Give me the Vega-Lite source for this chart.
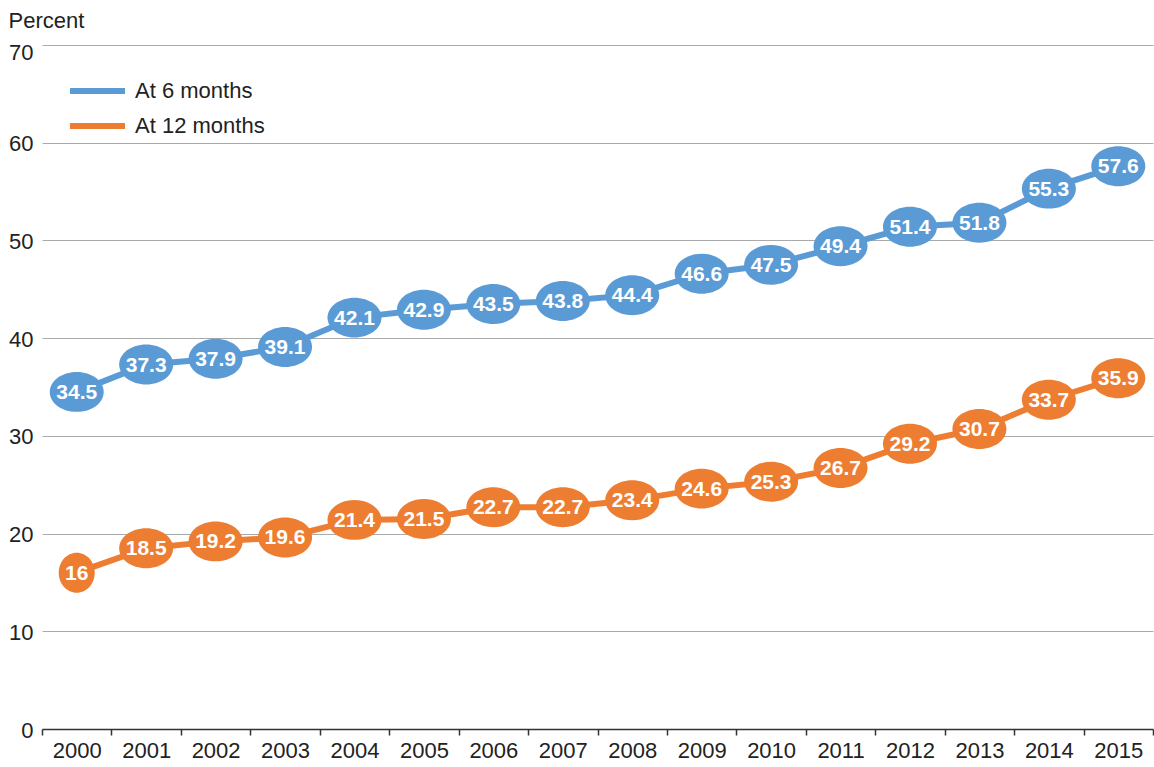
{
  "$schema": "https://vega.github.io/schema/vega-lite/v6.json",
  "autosize": "none",
  "width": 1111,
  "height": 684,
  "padding": {"left": 42, "top": 45, "right": 1, "bottom": 38},
  "background": "white",
  "config": {
    "font": "Liberation Sans",
    "view": {"stroke": null}
  },
  "data": {
    "values": [
      {"year": "2000", "series": "At 6 months", "v": 34.5},
      {"year": "2001", "series": "At 6 months", "v": 37.3},
      {"year": "2002", "series": "At 6 months", "v": 37.9},
      {"year": "2003", "series": "At 6 months", "v": 39.1},
      {"year": "2004", "series": "At 6 months", "v": 42.1},
      {"year": "2005", "series": "At 6 months", "v": 42.9},
      {"year": "2006", "series": "At 6 months", "v": 43.5},
      {"year": "2007", "series": "At 6 months", "v": 43.8},
      {"year": "2008", "series": "At 6 months", "v": 44.4},
      {"year": "2009", "series": "At 6 months", "v": 46.6},
      {"year": "2010", "series": "At 6 months", "v": 47.5},
      {"year": "2011", "series": "At 6 months", "v": 49.4},
      {"year": "2012", "series": "At 6 months", "v": 51.4},
      {"year": "2013", "series": "At 6 months", "v": 51.8},
      {"year": "2014", "series": "At 6 months", "v": 55.3},
      {"year": "2015", "series": "At 6 months", "v": 57.6},
      {"year": "2000", "series": "At 12 months", "v": 16},
      {"year": "2001", "series": "At 12 months", "v": 18.5},
      {"year": "2002", "series": "At 12 months", "v": 19.2},
      {"year": "2003", "series": "At 12 months", "v": 19.6},
      {"year": "2004", "series": "At 12 months", "v": 21.4},
      {"year": "2005", "series": "At 12 months", "v": 21.5},
      {"year": "2006", "series": "At 12 months", "v": 22.7},
      {"year": "2007", "series": "At 12 months", "v": 22.7},
      {"year": "2008", "series": "At 12 months", "v": 23.4},
      {"year": "2009", "series": "At 12 months", "v": 24.6},
      {"year": "2010", "series": "At 12 months", "v": 25.3},
      {"year": "2011", "series": "At 12 months", "v": 26.7},
      {"year": "2012", "series": "At 12 months", "v": 29.2},
      {"year": "2013", "series": "At 12 months", "v": 30.7},
      {"year": "2014", "series": "At 12 months", "v": 33.7},
      {"year": "2015", "series": "At 12 months", "v": 35.9}
    ]
  },
  "encoding": {
    "x": {
      "field": "year",
      "type": "ordinal",
      "scale": {"type": "band", "paddingInner": 0, "paddingOuter": 0},
      "axis": {
        "title": null,
        "labelAngle": 0,
        "labelFontSize": 22,
        "labelColor": "#222222",
        "labelPadding": 5,
        "tickBand": "extent",
        "tickSize": 6,
        "tickColor": "#333333",
        "tickWidth": 1.5,
        "domainColor": "#333333",
        "domainWidth": 1.5,
        "grid": false
      }
    },
    "y": {
      "field": "v",
      "type": "quantitative",
      "scale": {"domain": [0, 70], "nice": false, "zero": true},
      "axis": {
        "values": [0, 10, 20, 30, 40, 50, 60, 70],
        "title": "Percent",
        "titleAngle": 0,
        "titleAlign": "left",
        "titleBaseline": "middle",
        "titleX": -34,
        "titleY": -25,
        "titleFontSize": 22,
        "titleFontWeight": "normal",
        "titleColor": "#222222",
        "labelFontSize": 22,
        "labelColor": "#222222",
        "labelPadding": 9,
        "labelOffset": {"condition": {"test": "datum.value == 70", "value": 7}, "value": 1},
        "tickSize": 0,
        "ticks": false,
        "domain": false,
        "grid": true,
        "gridColor": "#aaaaaa",
        "gridWidth": 1
      }
    },
    "color": {
      "field": "series",
      "type": "nominal",
      "sort": ["At 6 months", "At 12 months"],
      "scale": {"domain": ["At 6 months", "At 12 months"], "range": ["#5b9bd5", "#ed7d31"]},
      "legend": {
        "title": null,
        "orient": "none",
        "legendX": 25,
        "legendY": 32,
        "symbolType": "stroke",
        "symbolSize": 3025,
        "symbolStrokeWidth": 6,
        "labelFontSize": 22,
        "labelColor": "#222222",
        "labelOffset": 7,
        "clipHeight": 28,
        "rowPadding": 7
      }
    }
  },
  "layer": [
    {
      "mark": {"type": "line", "strokeWidth": 6, "strokeCap": "round"}
    },
    {
      "mark": {"type": "point", "filled": true, "opacity": 1, "size": 2916, "strokeWidth": 0},
      "encoding": {
        "shape": {
          "condition": {"test": "datum.v == 16", "value": "M-0.667,0A0.667,0.74,0,1,0,0.667,0A0.667,0.74,0,1,0,-0.667,0Z"},
          "value": "M-1,0A1,0.74,0,1,0,1,0A1,0.74,0,1,0,-1,0Z"
        }
      }
    },
    {
      "mark": {"type": "text", "color": "white", "fontWeight": "bold", "fontSize": 21, "baseline": "middle", "dy": 1},
      "encoding": {
        "text": {"field": "v", "type": "quantitative", "format": ""},
        "color": {"value": "white"}
      }
    }
  ]
}
